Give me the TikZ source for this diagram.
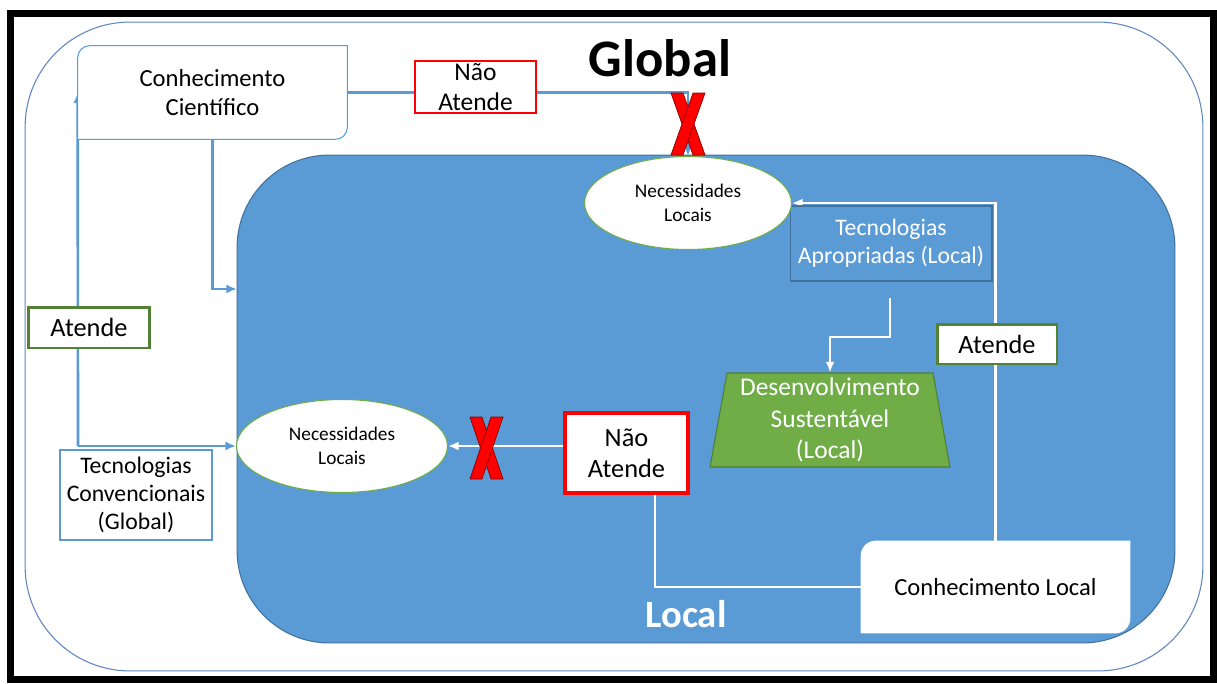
\documentclass[tikz,border=0pt]{standalone}
\usepackage{fontspec}
\setmainfont{Carlito}
\usetikzlibrary{shapes.geometric,arrows.meta,calc}

\definecolor{fillblue}{HTML}{5B9BD5}
\definecolor{edgeblue}{HTML}{41719C}
\definecolor{lineblue}{HTML}{5B9BD5}
\definecolor{ringblue}{HTML}{5F86BF}
\definecolor{leaf}{HTML}{70AD47}
\definecolor{leafdark}{HTML}{507E32}
\definecolor{okgreen}{HTML}{548235}

\pgfdeclarelayer{regions}
\pgfdeclarelayer{links}
\pgfdeclarelayer{plates}
\pgfsetlayers{regions,links,plates,main}

\tikzset{
  txt/.style={font=\fontsize{14}{17}\selectfont, align=center, inner sep=0pt},
  small/.style={font=\fontsize{11}{13.5}\selectfont, align=center, inner sep=0pt},
  bconn/.style={draw=lineblue, line width=1.5pt, -{Latex[length=6pt,width=5pt]}},
  wconn/.style={draw=white, line width=1.5pt, -{Latex[length=6pt,width=5pt]}},
  wline/.style={draw=white, line width=1.5pt},
  need/.style={ellipse, small, fill=white, draw=leaf, line width=0.6pt, text=black},
  okbox/.style={txt, fill=white, draw=okgreen, line width=1.7pt},
  nobox/.style={txt, fill=white, draw=red, line width=1.6pt},
  cross/.style={fill=red, draw=red!55!black, line width=0.4pt},
}

\begin{document}
\begin{tikzpicture}[x=0.02cm,y=-0.02cm]
\useasboundingbox (0,0) rectangle (1217,683);

% Global and Local regions
\begin{pgfonlayer}{regions}
\fill[white] (0,0) rectangle (1217,683);
\node[draw=ringblue, line width=0.6pt, rounded corners=2.1cm, inner sep=0pt,
      minimum width=23.56cm, minimum height=12.98cm] (gz) at (614,346.5) {};
\node[fill=fillblue, draw=edgeblue, line width=0.6pt, rounded corners=1.85cm, inner sep=0pt,
      minimum width=18.76cm, minimum height=9.76cm] (lz) at (706,399) {};
\end{pgfonlayer}

% frame
\draw[line width=4pt] (10.5,13.5) rectangle (1213.5,679.5);

\node[font=\fontsize{30}{36}\selectfont\bfseries, inner sep=0pt] (gl) at (660,58) {Global};
\node[font=\fontsize{22}{26}\selectfont\bfseries, text=white, inner sep=0pt] (ll) at (686,614) {Local};

% boxes
\node[txt, minimum width=5.38cm, minimum height=1.86cm] (cc) at (212.5,92.5) {Conhecimento\\Científico};
\node[txt, minimum width=5.38cm, minimum height=1.84cm] (cl) at (995.5,587) {Conhecimento Local};
\node[txt, fill=white, draw=lineblue, line width=0.6pt, font=\fontsize{13.5}{16}\selectfont,
      minimum width=3.04cm, minimum height=1.8cm] (tc) at (136,495) {Tecnologias\\Convencionais\\(Global)};
\node[txt, text=white, draw=edgeblue, line width=0.6pt, font=\fontsize{13.5}{16}\selectfont,
      minimum width=4.04cm, minimum height=1.5cm] (ta) at (891,243.5) {Tecnologias\\Apropriadas (Local)};
\node[trapezium, trapezium stretches=true, trapezium left angle=80, trapezium right angle=80,
      fill=leaf, draw=leafdark, line width=0.6pt, text=white, txt, font=\fontsize{14.5}{17.8}\selectfont,
      minimum width=4.8cm, minimum height=1.88cm] (ds) at (830,420) {Desenvolvimento\\Sustentável\\(Local)};

\node[need, minimum width=4.14cm, minimum height=1.86cm] (ne) at (688,203) {Necessidades\\Locais};
\node[need, minimum width=4.22cm, minimum height=1.86cm] (nl) at (342,446) {Necessidades\\Locais};

\node[nobox, font=\fontsize{14.5}{17}\selectfont, minimum width=2.42cm, minimum height=1.04cm] (na1) at (475.5,87) {Não\\Atende};
\node[nobox, font=\fontsize{15}{17.5}\selectfont, line width=1.8pt, minimum width=2.46cm, minimum height=1.6cm] (na2) at (626.5,453) {Não\\Atende};
\node[okbox, font=\fontsize{15}{18}\selectfont, minimum width=2.44cm, minimum height=0.82cm] (ok1) at (89,327.5) {Atende};
\node[okbox, font=\fontsize{15}{18}\selectfont, minimum width=2.4cm, minimum height=0.8cm] (ok2) at (997,344) {Atende};

% plates with two rounded corners
\begin{pgfonlayer}{plates}
\path[fill=white, draw=lineblue, line width=0.6pt]
  (cc.west) [rounded corners=0.24cm] -- (cc.north west) -- (cc.north)
  [sharp corners] -- (cc.north east) -- (cc.east)
  [rounded corners=0.24cm] -- (cc.south east) -- (cc.south)
  [sharp corners] -- (cc.south west) -- cycle;
\path[fill=white]
  (cl.west) [rounded corners=0.3cm] -- (cl.north west) -- (cl.north)
  [sharp corners] -- (cl.north east) -- (cl.east)
  [rounded corners=0.3cm] -- (cl.south east) -- (cl.south)
  [sharp corners] -- (cl.south west) -- cycle;
\end{pgfonlayer}

% connectors
\begin{pgfonlayer}{links}
\coordinate (tcj) at (78,446);
\coordinate (entry) at (237,289);
\coordinate (tas) at (890,298);
\draw[bconn] (cc.east) -- (ne.north |- cc.east) -- (ne.north);
\draw[bconn] (tcj) -- (cc.west);
\draw[bconn] (tcj) -- (nl.west);
\draw[bconn] (cc.south) |- (entry);
\draw[wconn] (cl.north) |- (ne.east);
\draw[wconn] (tas) -- ++(0,39) -| (ds.north);
\draw[wconn] (na2.west |- nl.east) -- (nl.east);
\draw[wline] (cl.west) -| ([xshift=0.57cm]na2.south);
\end{pgfonlayer}

% crosses
\path[cross] (671,93) -- (683,93) -- (705,155) -- (693,155) -- cycle;
\path[cross] (693,93) -- (705,93) -- (683,155) -- (671,155) -- cycle;
\path[cross] (470,417) -- (482,417) -- (503,479) -- (491,479) -- cycle;
\path[cross] (491,417) -- (503,417) -- (482,479) -- (470,479) -- cycle;
\end{tikzpicture}
\end{document}
